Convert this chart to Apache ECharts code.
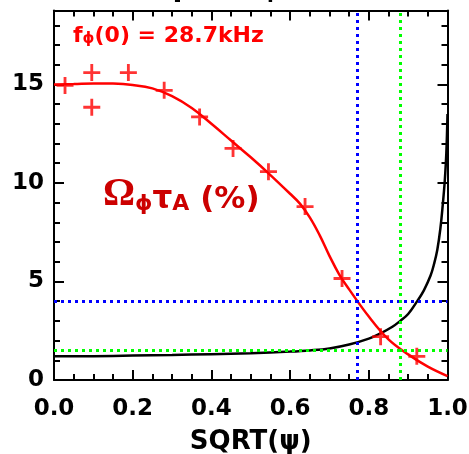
<!DOCTYPE html>
<html><head><meta charset="utf-8">
<script src="https://cdn.jsdelivr.net/npm/echarts@6/dist/echarts.min.js"></script>
<style>html,body{margin:0;padding:0;background:#fff}#c{width:469px;height:454px}</style>
</head><body><div id="c"></div>
<script>
// Fitted rotation profile (red line)
const fitX = [0.0, 0.05, 0.1, 0.15, 0.2, 0.25, 0.3, 0.35, 0.4, 0.45, 0.5, 0.55, 0.6, 0.625, 0.65, 0.675, 0.7, 0.725, 0.75, 0.8, 0.85, 0.9, 0.95, 1.0];
const fitY = [15.0, 15.02, 15.05, 15.04, 14.97, 14.8, 14.4, 13.8, 13.0, 12.15, 11.3, 10.4, 9.45, 8.95, 8.25, 7.35, 6.3, 5.35, 4.6, 3.22, 2.06, 1.3, 0.68, 0.2];
// Black curve
const qX = [0.0, 0.1, 0.2, 0.3, 0.4, 0.5, 0.6, 0.65, 0.7, 0.75, 0.8, 0.83, 0.86, 0.88, 0.9, 0.923, 0.94, 0.957, 0.966, 0.974, 0.982, 0.988, 0.993, 0.997, 1.0];
const qY = [1.2, 1.21, 1.24, 1.27, 1.31, 1.36, 1.44, 1.5, 1.6, 1.8, 2.1, 2.37, 2.7, 3.0, 3.35, 4.0, 4.55, 5.3, 5.9, 6.6, 7.7, 8.9, 10.1, 11.5, 13.5];
// Measured points (red crosses)
const measX = [0.028, 0.096, 0.096, 0.189, 0.28, 0.37, 0.455, 0.545, 0.638, 0.732, 0.83, 0.922];
const measY = [14.95, 15.6, 13.84, 15.6, 14.7, 13.35, 11.75, 10.57, 8.8, 5.15, 2.2, 1.2];
// Reference dotted lines [x, y]
const blueRef = [0.771, 4.0];
const greenRef = [0.878, 1.5];
// Tick labels
const xTickLabels = ['0.0', '0.2', '0.4', '0.6', '0.8', '1.0'];
const yTickLabels = ['0', '5', '10', '15'];

const FONT = 'DejaVu Sans';
const plus = 'path://M0,7.5 L18,7.5 L18,10.5 L0,10.5 Z M7.5,0 L10.5,0 L10.5,18 L7.5,18 Z';
const zip = (a, b) => a.map((v, i) => [v, b[i]]);

const axisLineStyle = { show: true, onZero: false, lineStyle: { color: '#000', width: 2 } };
function xAx(pos, labels) {
  return {
    type: 'value', min: 0, max: 1, interval: 0.2, position: pos,
    axisLine: axisLineStyle,
    axisTick: { show: true, inside: true, length: 10, lineStyle: { color: '#000', width: 2 } },
    minorTick: { show: true, splitNumber: 4, length: 6, lineStyle: { color: '#000', width: 2 } },
    splitLine: { show: false }, minorSplitLine: { show: false },
    axisLabel: labels ? {
      show: true, margin: 18, color: '#000', fontFamily: FONT, fontWeight: 'bold', fontSize: 23,
      formatter: v => { const i = Math.round(v / 0.2); return Math.abs(v - i * 0.2) < 1e-6 ? (xTickLabels[i] || '') : ''; }
    } : { show: false },
    name: labels ? 'SQRT(ψ)' : '', nameLocation: 'middle', nameGap: 49,
    nameTextStyle: { color: '#000', fontFamily: FONT, fontWeight: 'bold', fontSize: 26 }
  };
}
function yAx(pos, interval, tickLen, line, labels) {
  return {
    type: 'value', min: 0, max: 18.75, interval: interval, position: pos,
    axisLine: line ? axisLineStyle : { show: false, onZero: false },
    axisTick: { show: true, inside: true, length: tickLen, lineStyle: { color: '#000', width: 2 } },
    splitLine: { show: false },
    axisLabel: labels ? {
      show: true, margin: 10, color: '#000', fontFamily: FONT, fontWeight: 'bold', fontSize: 23,
      formatter: v => { const i = Math.round(v / 5); return Math.abs(v - i * 5) < 1e-6 ? (yTickLabels[i] || '') : ''; }
    } : { show: false }
  };
}

const chart = echarts.init(document.getElementById('c'), null, { renderer: 'canvas' });
chart.setOption({
  backgroundColor: '#fff',
  animation: false,
  grid: { left: 54, right: 21.5, top: 10.5, bottom: 74, containLabel: false, outerBoundsMode: 'none' },
  xAxis: [xAx('bottom', true), xAx('top', false)],
  yAxis: [yAx('left', 5, 10, true, true), yAx('left', 1, 6, false, false), yAx('right', 5, 10, true, false), yAx('right', 1, 6, false, false)],
  graphic: [
    { type: 'text', x: 378, y: -33, silent: true, style: {
      text: '{n|Input Ω}{s|ϕ}{n|τ}{s|A}{n| (%)}', align: 'right',
      rich: {
        n: { fontFamily: FONT, fontWeight: 'bold', fontSize: 29, lineHeight: 36, verticalAlign: 'bottom', fill: '#000' },
        s: { fontFamily: FONT, fontWeight: 'bold', fontSize: 20, lineHeight: 16, verticalAlign: 'bottom', fill: '#000' }
      } } },
    { type: 'text', x: 73, y: 17, silent: true, style: {
      text: '{n|f}{s|ϕ}{n|(0) = 28.7kHz}',
      rich: {
        n: { fontFamily: FONT, fontWeight: 'bold', fontSize: 22, lineHeight: 30, verticalAlign: 'bottom', fill: '#ff0000' },
        s: { fontFamily: FONT, fontWeight: 'bold', fontSize: 15, lineHeight: 18, verticalAlign: 'bottom', fill: '#ff0000' }
      } } },
    { type: 'text', x: 103, y: 171, silent: true, style: {
      text: '{o|Ω}{s|ϕ}{n|τ}{s|A}{n| (%)}',
      rich: {
        o: { fontFamily: 'Liberation Serif', fontWeight: 'bold', fontSize: 40, lineHeight: 44, verticalAlign: 'bottom', fill: '#cc0000' },
        n: { fontFamily: FONT, fontWeight: 'bold', fontSize: 31, lineHeight: 44, verticalAlign: 'bottom', fill: '#cc0000' },
        s: { fontFamily: FONT, fontWeight: 'bold', fontSize: 22, lineHeight: 20, verticalAlign: 'bottom', fill: '#cc0000' }
      } } }
  ],
  series: [
    { type: 'line', data: [], z: 1, silent: true,
      markLine: { silent: true, symbol: ['none', 'none'], label: { show: false }, animation: false,
        data: [
          { xAxis: blueRef[0], lineStyle: { color: '#0000ff', width: 3, type: [3, 4] } },
          { yAxis: blueRef[1], lineStyle: { color: '#0000ff', width: 3, type: [3, 4] } },
          { xAxis: greenRef[0], lineStyle: { color: '#00ff00', width: 3, type: [3, 4] } },
          { yAxis: greenRef[1], lineStyle: { color: '#00ff00', width: 3, type: [3, 4] } }
        ] } },
    { type: 'line', data: zip(qX, qY), smooth: 0.4, symbol: 'none', z: 3,
      lineStyle: { color: '#000', width: 2.5 } },
    { type: 'line', data: zip(fitX, fitY), smooth: 0.4, symbol: 'none', z: 4,
      lineStyle: { color: '#ff0000', width: 2.5 } },
    { type: 'scatter', data: zip(measX, measY), symbol: plus, symbolSize: 17, z: 5,
      itemStyle: { color: '#ff0000' } }
  ]
});
</script></body></html>
